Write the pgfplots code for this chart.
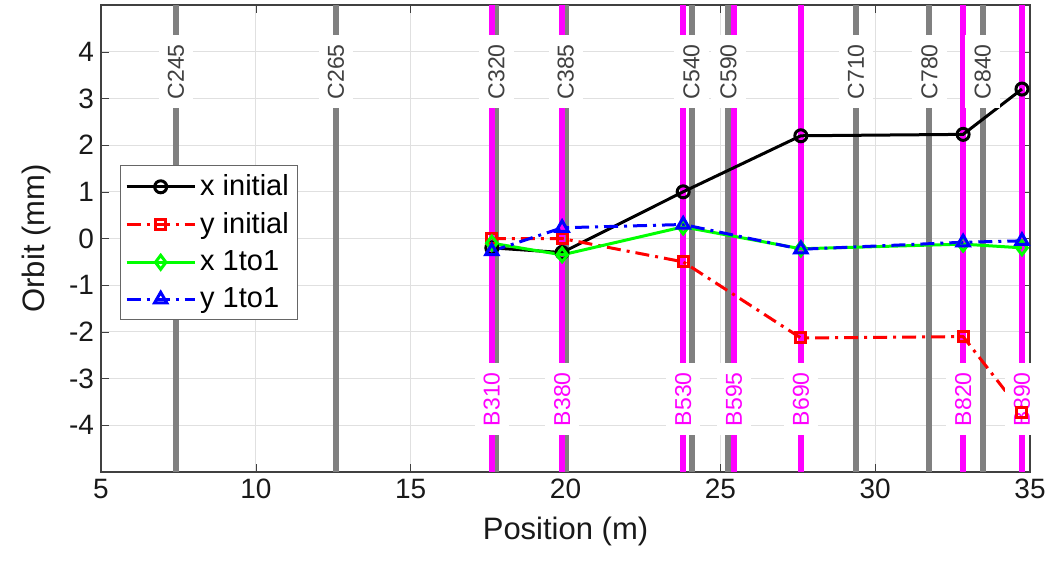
\documentclass[border=0pt]{standalone}
\usepackage{fontspec}
\setmainfont{Liberation Sans}
\usepackage{pgfplots}
\pgfplotsset{compat=1.18}
\usepackage{pgfplotstable}
\usetikzlibrary{calc}
\definecolor{mgray}{RGB}{128,128,128}
\definecolor{mmag}{RGB}{255,0,255}
\definecolor{mgreen}{RGB}{0,255,0}
\definecolor{mtext}{RGB}{64,64,64}

% corrector positions (gray), labels on top
\pgfplotstableread{
x y label
7.42 3.57 C245
12.59 3.57 C265
17.77 3.57 C320
20.01 3.57 C385
24.07 3.57 C540
25.26 3.57 C590
29.38 3.57 C710
31.75 3.57 C780
33.47 3.57 C840
}\clab
% bpm positions (magenta), labels at bottom
\pgfplotstableread{
x y label
17.62 -3.44 B310
19.89 -3.44 B380
23.80 -3.44 B530
25.44 -3.44 B595
27.60 -3.44 B690
32.84 -3.44 B820
34.74 -3.44 B890
}\blab

\begin{document}
\begin{tikzpicture}
\begin{axis}[name=ax, scale only axis, width=464.5pt, height=233.5pt,
  xmin=5, xmax=35, ymin=-5, ymax=5,
  xtick={5,10,...,35}, ytick={-4,...,4},
  grid=major, grid style={black!12, line width=0.5pt},
  axis line style={black!75, line width=0.6pt},
  tick style={black!75}, major tick length=4pt,
  unbounded coords=jump, clip=false,
  /pgf/number format/assume math mode=true,
  tick label style={font=\fontsize{14}{14}\selectfont, text=black!90},
  label style={font=\fontsize{15.5}{16}\selectfont, text=black!90},
  xlabel={Position (m)}, ylabel={Orbit (mm)},
  xlabel style={yshift=-2pt}, ylabel style={yshift=2pt},
  legend image code/.code={\draw[mark repeat=2,mark phase=2,#1] plot coordinates {(0pt,0pt)(17pt,0pt)(34pt,0pt)};},
  legend style={at={(0.02,0.657)}, anchor=north west, draw=black!60, line width=0.6pt,
    font=\fontsize{14.5}{17}\selectfont, legend cell align=left, inner sep=2.5pt,
    row sep=3pt},
]
% gray corrector lines
\addplot[forget plot, mgray, line width=3pt] table {
x y
7.42 -5
7.42 5
nan nan
12.59 -5
12.59 5
nan nan
17.77 -5
17.77 5
nan nan
20.01 -5
20.01 5
nan nan
24.07 -5
24.07 5
nan nan
25.26 -5
25.26 5
nan nan
29.38 -5
29.38 5
nan nan
31.75 -5
31.75 5
nan nan
33.47 -5
33.47 5
};
% magenta bpm lines
\addplot[forget plot, mmag, line width=3pt] table {
x y
17.62 -5
17.62 5
nan nan
19.89 -5
19.89 5
nan nan
23.80 -5
23.80 5
nan nan
25.44 -5
25.44 5
nan nan
27.60 -5
27.60 5
nan nan
32.84 -5
32.84 5
nan nan
34.74 -5
34.74 5
};
% labels
\addplot[forget plot, draw=none, mark=none, nodes near coords, point meta=explicit symbolic,
  every node near coord/.style={rotate=90, anchor=center, fill=white, inner sep=4.5pt,
    text=mtext, font=\fontsize{11.5}{11.5}\selectfont}]
  table[x=x, y=y, meta=label] {\clab};
\addplot[forget plot, draw=none, mark=none, nodes near coords, point meta=explicit symbolic,
  every node near coord/.style={rotate=90, anchor=center, fill=white, inner sep=4.5pt,
    text=mmag, font=\fontsize{11.5}{11.5}\selectfont}]
  table[x=x, y=y, meta=label] {\blab};
% orbit data
\addplot[black, line width=1.5pt, mark=o, mark size=3pt, mark options={solid}]
  coordinates {(17.62,-0.2)(19.89,-0.3)(23.80,1.0)(27.60,2.2)(32.84,2.23)(34.74,3.2)};
\addlegendentry{x initial}
\addplot[red, line width=1.5pt, dash pattern=on 7pt off 3pt on 1.5pt off 3pt, mark=square, mark size=2.5pt, mark options={solid}]
  coordinates {(17.62,0)(19.89,0.0)(23.80,-0.5)(27.60,-2.13)(32.84,-2.1)(34.74,-3.72)};
\addlegendentry{y initial}
\addplot[mgreen, line width=1.5pt, mark=diamond, mark size=3.5pt, mark options={solid}]
  coordinates {(17.62,-0.1)(19.89,-0.35)(23.80,0.25)(27.60,-0.22)(32.84,-0.12)(34.74,-0.2)};
\addlegendentry{x 1to1}
\addplot[blue, line width=1.5pt, dash pattern=on 7pt off 3pt on 1.5pt off 3pt, mark=triangle, mark size=3.5pt, mark options={solid}]
  coordinates {(17.62,-0.27)(19.89,0.23)(23.80,0.3)(27.60,-0.23)(32.84,-0.08)(34.74,-0.05)};
\addlegendentry{y 1to1}
\end{axis}
\path ($(ax.south west)+(-50.5pt,-45pt)$) rectangle ($(ax.north east)+(13pt,2.5pt)$);
\end{tikzpicture}
\end{document}
